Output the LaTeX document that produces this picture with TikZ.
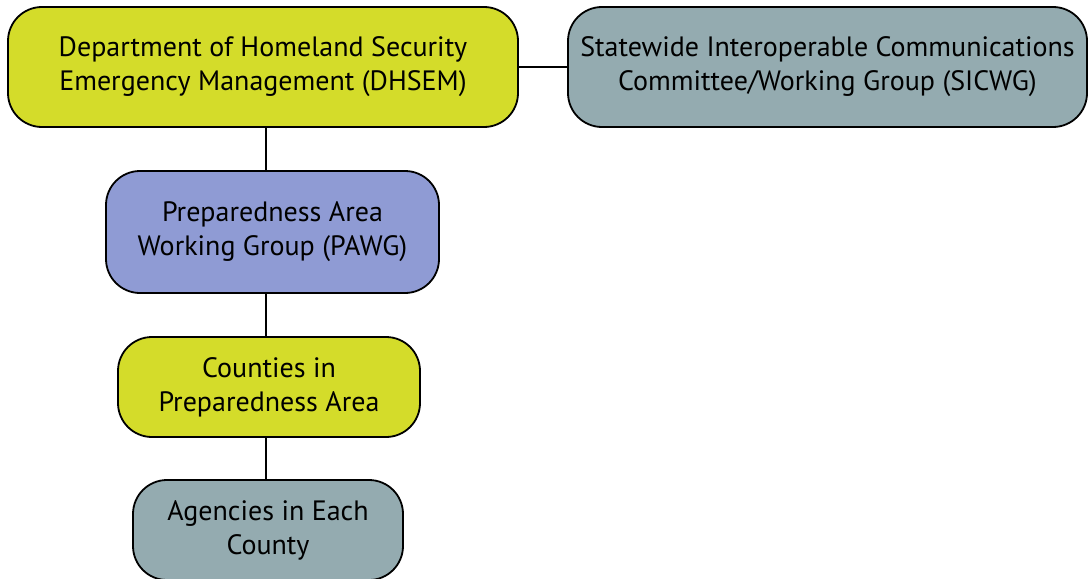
\documentclass[tikz,border=0pt]{standalone}
\usepackage{fontspec}
\setmainfont{PT Sans}
\usetikzlibrary{positioning}
\definecolor{orgyellow}{RGB}{212,220,42}
\definecolor{orggrey}{RGB}{148,171,176}
\definecolor{orgblue}{RGB}{143,155,212}
\tikzset{
  orgbox/.style={
    rectangle,
    rounded corners=34pt,
    draw=black, line width=1.8pt,
    align=center,
    inner sep=0pt,
    font=\fontsize{28}{34}\selectfont},
  link/.style={draw, line width=1.8pt}
}
\begin{document}
\begin{tikzpicture}[x=1pt,y=-1pt]
    \useasboundingbox (0,0) rectangle (1091,578);

    \node[orgbox, fill=orgyellow, minimum width=510pt, minimum height=120pt]
        (dhsem) at (263,67) {Department of Homeland Security\\Emergency Management (DHSEM)};
    \node[orgbox, fill=orggrey, minimum width=519pt, minimum height=120pt]
        (sicwg) at (827.5,67) {Statewide Interoperable Communications\\Committee/Working Group (SICWG)};

    \node[orgbox, fill=orgblue, minimum width=333pt, minimum height=122pt]
        (pawg) at (272.5,232) {Preparedness Area\\Working Group (PAWG)};
    \node[orgbox, fill=orgyellow, minimum width=302pt, minimum height=100pt]
        (counties) at (269,387) {Counties in\\Preparedness Area};
    \node[orgbox, fill=orggrey, minimum width=270pt, minimum height=100pt]
        (agencies) at (268,530) {Agencies in Each\\County};

    % connectors
    \coordinate (stem) at (266,0);
    \draw[link] (dhsem.east) -- (sicwg.west);
    \draw[link] (dhsem.south -| stem) -- (pawg.north -| stem);
    \draw[link] (pawg.south -| stem) -- (counties.north -| stem);
    \draw[link] (counties.south -| stem) -- (agencies.north -| stem);
\end{tikzpicture}
\end{document}
